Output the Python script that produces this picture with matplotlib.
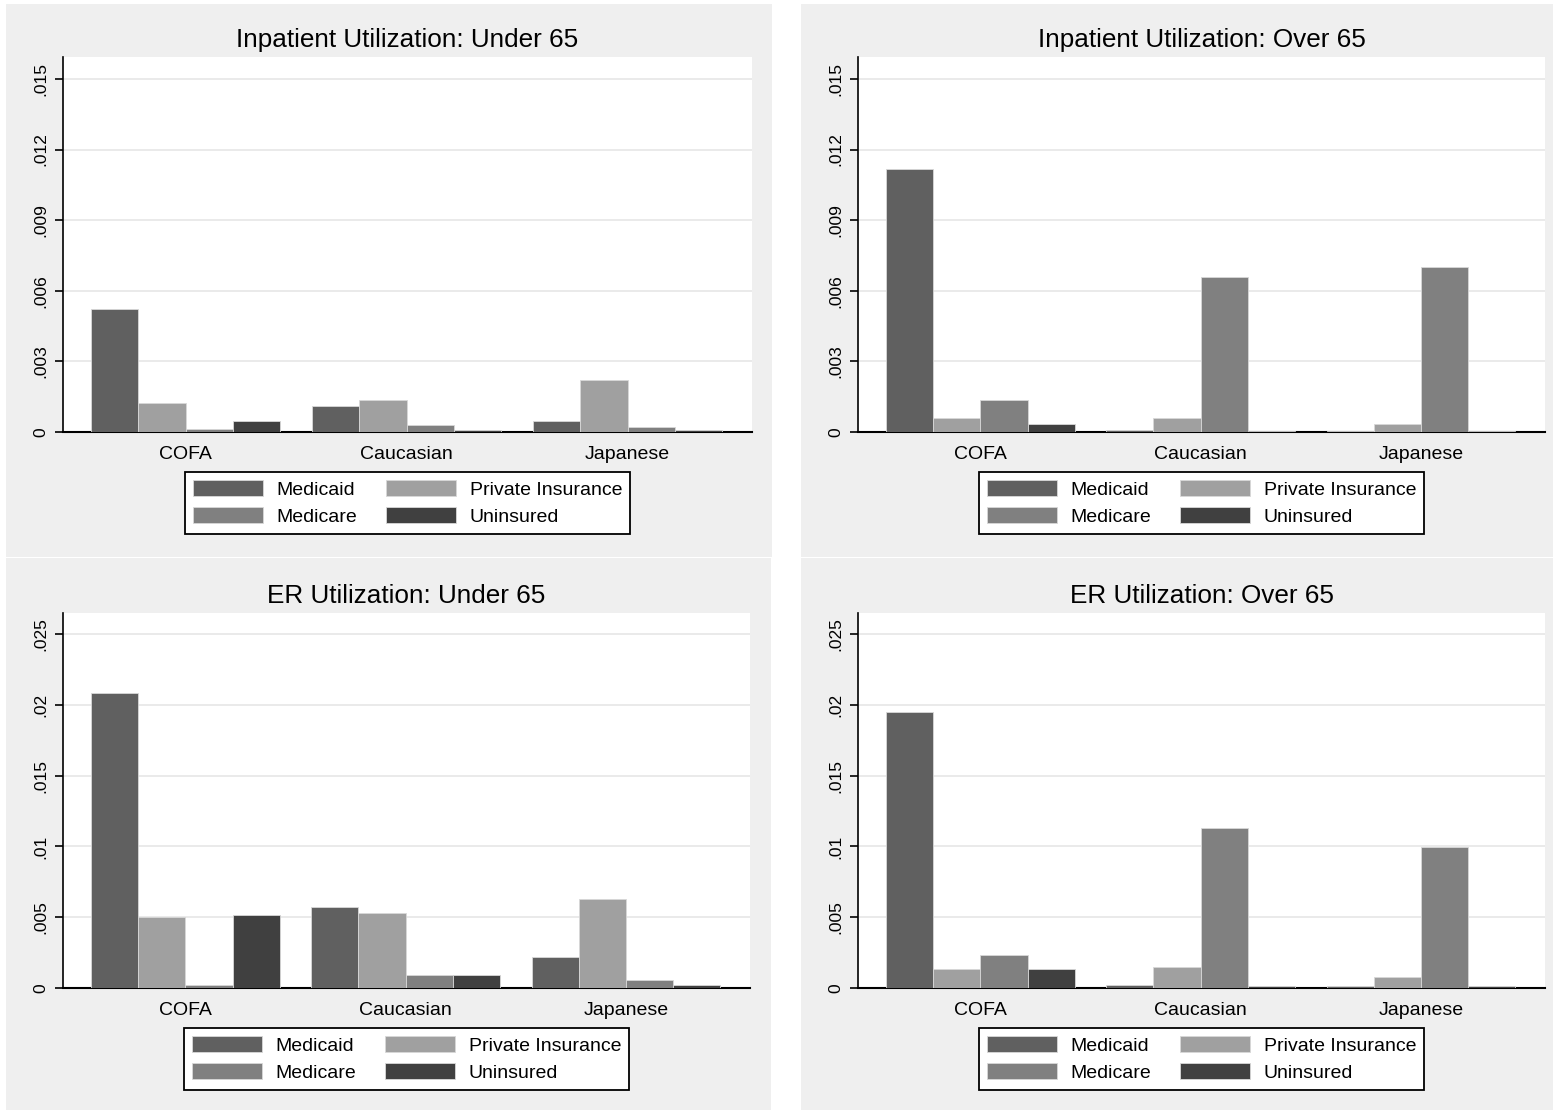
import matplotlib
matplotlib.use("Agg")
import matplotlib.pyplot as plt
from matplotlib.patches import Rectangle
import numpy as np

plt.rcParams['font.family'] = ['Liberation Sans', 'DejaVu Sans']

categories = ["COFA", "Caucasian", "Japanese"]
series_names = ["Medicaid", "Private Insurance", "Medicare", "Uninsured"]

# Inpatient utilization, under 65
inp_u65_medicaid = [0.00524, 0.00110, 0.00048]
inp_u65_private = [0.00124, 0.00137, 0.00219]
inp_u65_medicare = [0.00014, 0.00029, 0.00022]
inp_u65_uninsured = [0.00048, 0.00008, 0.00008]

# Inpatient utilization, over 65
inp_o65_medicaid = [0.01119, 0.00007, 0.00005]
inp_o65_private = [0.00061, 0.00061, 0.00034]
inp_o65_medicare = [0.00135, 0.00659, 0.00699]
inp_o65_uninsured = [0.00034, 0.00005, 0.00005]

# ER utilization, under 65
er_u65_medicaid = [0.02083, 0.00570, 0.00219]
er_u65_private = [0.00504, 0.00529, 0.00629]
er_u65_medicare = [0.00020, 0.00090, 0.00057]
er_u65_uninsured = [0.00514, 0.00090, 0.00024]

# ER utilization, over 65
er_o65_medicaid = [0.01946, 0.00024, 0.00014]
er_o65_private = [0.00137, 0.00151, 0.00080]
er_o65_medicare = [0.00230, 0.01130, 0.00995]
er_o65_uninsured = [0.00137, 0.00014, 0.00014]

inp_ticks = [0, 0.003, 0.006, 0.009, 0.012, 0.015]
inp_ticklabels = ["0", ".003", ".006", ".009", ".012", ".015"]
er_ticks = [0, 0.005, 0.01, 0.015, 0.02, 0.025]
er_ticklabels = ["0", ".005", ".01", ".015", ".02", ".025"]

titles = ["Inpatient Utilization: Under 65", "Inpatient Utilization: Over 65",
          "ER Utilization: Under 65", "ER Utilization: Over 65"]

colors = ["#606060", "#a0a0a0", "#808080", "#404040"]

W, H = 1553, 1110
fig = plt.figure(figsize=(W / 100, H / 100), dpi=100)
fig.patch.set_facecolor("white")


def fx(px):
    return px / W


def fy(py):
    return 1 - py / H


# panel backgrounds (pixel boxes: x0, y0, x1, y1)
panels = [(6, 4, 772, 557), (801, 4, 1553, 557), (6, 558, 771, 1110), (801, 558, 1553, 1110)]
for (x0, y0, x1, y1) in panels:
    fig.patches.append(Rectangle((fx(x0), fy(y1)), fx(x1 - x0), (y1 - y0) / H,
                                 transform=fig.transFigure, facecolor="#efefef",
                                 edgecolor="none", zorder=-5))

# axes pixel boxes
axboxes = [(63, 57, 752, 432), (858, 57, 1545, 432), (63, 613, 750, 988), (858, 613, 1545, 988)]

data = [
    (inp_u65_medicaid, inp_u65_private, inp_u65_medicare, inp_u65_uninsured),
    (inp_o65_medicaid, inp_o65_private, inp_o65_medicare, inp_o65_uninsured),
    (er_u65_medicaid, er_u65_private, er_u65_medicare, er_u65_uninsured),
    (er_o65_medicaid, er_o65_private, er_o65_medicare, er_o65_uninsured),
]

title_pos = [(407.5, 40), (1201.5, 40), (406.5, 596), (1201.5, 596)]

x = np.arange(len(categories))
w = 0.2143

for i, (box, series, title) in enumerate(zip(axboxes, data, titles)):
    x0, y0, x1, y1 = box
    ax = fig.add_axes([fx(x0), fy(y1), fx(x1 - x0), (y1 - y0) / H])
    ax.set_facecolor("white")
    handles = []
    for j, vals in enumerate(series):
        b = ax.bar(x + (j - 1.5) * w, vals, width=w, color=colors[j],
                   edgecolor="#d8d8d8", linewidth=0.6, label=series_names[j], zorder=3)
        handles.append(b)
    ax.set_xlim(-0.555, 2.563)
    if i < 2:
        ticks, labels = inp_ticks, inp_ticklabels
        ax.set_ylim(0, 0.01593)
    else:
        ticks, labels = er_ticks, er_ticklabels
        ax.set_ylim(0, 0.02648)
    ax.set_yticks(ticks)
    ax.set_yticklabels(labels, rotation=90, va="center", fontsize=12.5)
    ax.set_xticks(x)
    ax.set_xticklabels(categories, fontsize=14)
    ax.tick_params(axis="x", length=0, pad=10)
    ax.tick_params(axis="y", length=6, width=1.2, pad=4.5, direction="out")
    ax.grid(axis="y", color="#e6e6e6", linewidth=1.2, zorder=0)
    ax.set_axisbelow(True)
    for s in ["top", "right"]:
        ax.spines[s].set_visible(False)
    ax.spines["left"].set_linewidth(1.2)
    ax.spines["bottom"].set_linewidth(1.5)

    cx = (x0 + x1) / 2
    tx, ty = title_pos[i]
    fig.text(fx(tx), fy(ty), title, ha="center", va="center", fontsize=18.8)

    # legend order: row-wise Medicaid, Private / Medicare, Uninsured
    order = [0, 2, 1, 3]
    leg_top = y1 + 40
    leg = fig.legend([handles[k] for k in order], [series_names[k] for k in order],
                     loc="upper center", bbox_to_anchor=(fx(cx), fy(leg_top)),
                     ncol=2, fontsize=14, frameon=True, fancybox=False, framealpha=1,
                     handlelength=3.6, handleheight=0.9, handletextpad=0.7,
                     columnspacing=1.5, labelspacing=0.45, borderpad=0.4,
                     borderaxespad=0)
    leg.get_frame().set_edgecolor("black")
    leg.get_frame().set_linewidth(1.3)
    leg.get_frame().set_facecolor("white")

fig.savefig("out.png", dpi=100, facecolor=fig.get_facecolor())
